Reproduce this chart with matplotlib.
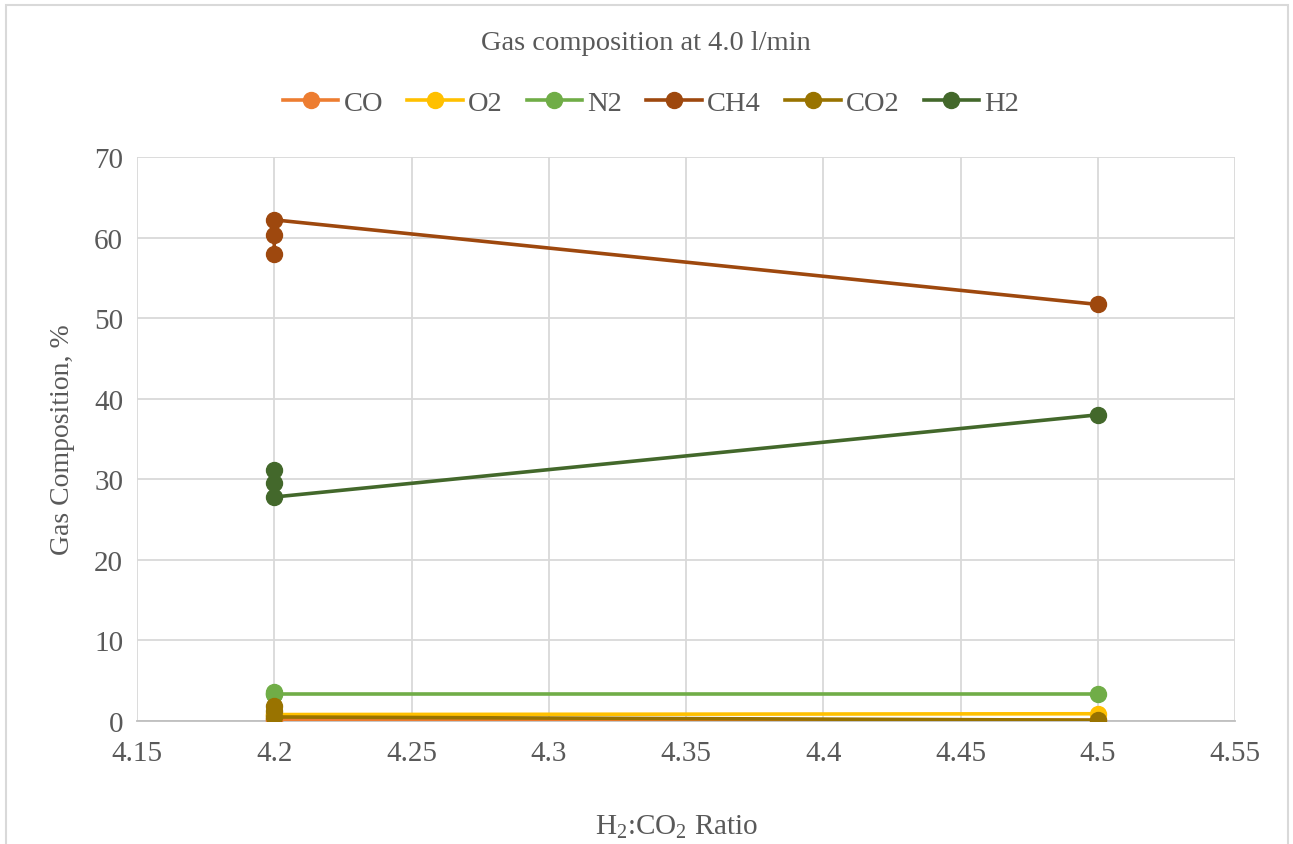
import matplotlib.pyplot as plt
from matplotlib.patches import Rectangle

# --- Data: three runs at 4.2 and one at 4.5 ---
ratio = [4.2, 4.2, 4.2, 4.5]
co = [0.0, 0.2, 0.2, 0.1]
o2 = [0.9, 0.8, 0.8, 0.9]
n2 = [3.6, 3.3, 3.4, 3.4]
ch4 = [58.0, 60.3, 62.2, 51.7]
co2 = [1.9, 1.2, 0.5, 0.1]
h2 = [31.2, 29.6, 27.8, 38.0]

series = [('CO', co, '#ED7D31'), ('O2', o2, '#FFC000'), ('N2', n2, '#70AD47'),
          ('CH4', ch4, '#9E480E'), ('CO2', co2, '#997300'), ('H2', h2, '#43682B')]

plt.rcParams['font.family'] = ['Liberation Serif', 'DejaVu Serif']
plt.rcParams['mathtext.fontset'] = 'custom'
plt.rcParams['mathtext.rm'] = 'Liberation Serif'
plt.rcParams['mathtext.it'] = 'Liberation Serif:italic'
txt = '#595959'

fig = plt.figure(figsize=(12.93, 8.45), dpi=100)
ax = fig.add_axes([137 / 1293, 1 - 722 / 845, (1235 - 137) / 1293, (722 - 158) / 845])

for name, vals, col in series:
    ax.plot(ratio, vals, color=col, lw=2.6, marker='o', ms=11.5, label=name, zorder=3)

ax.set_xlim(4.15, 4.55)
ax.set_ylim(0, 70)
ax.set_xticks([4.15, 4.2, 4.25, 4.3, 4.35, 4.4, 4.45, 4.5, 4.55])
ax.set_xticklabels(['4.15', '4.2', '4.25', '4.3', '4.35', '4.4', '4.45', '4.5', '4.55'])
ax.set_yticks(range(0, 71, 10))
ax.grid(True, color='#D9D9D9', lw=1.3, zorder=0)
ax.set_axisbelow(True)
for s in ['top', 'right', 'left']:
    ax.spines[s].set_visible(False)
ax.spines['bottom'].set_color('#BFBFBF')
ax.spines['bottom'].set_linewidth(1.3)
ax.tick_params(length=0, labelsize=21, labelcolor=txt, pad=10)
ax.tick_params(axis='x', pad=14)

ax.set_ylabel('Gas Composition, %', fontsize=20, color=txt, labelpad=14)
fig.text(677 / 1293, 1 - 827 / 845, r'H$_2$:CO$_2$ Ratio', ha='center', va='center', fontsize=21, color=txt)
fig.text(646 / 1293, 1 - 44 / 845, 'Gas composition at 4.0 l/min', ha='center', va='center', fontsize=20.5, color=txt)

fig.legend(loc='center', bbox_to_anchor=(651 / 1293, 1 - 104 / 845), ncol=6, frameon=False,
           fontsize=20.5, labelcolor=txt, handlelength=1.95, handletextpad=0.18, columnspacing=0.85)

# chart border
fig.patches.append(Rectangle((6 / 1293, -0.02), 1282 / 1293, 1.02 - 6 / 845, transform=fig.transFigure,
                             fill=False, edgecolor='#D9D9D9', lw=1.5))

plt.savefig('out.png', dpi=100)
